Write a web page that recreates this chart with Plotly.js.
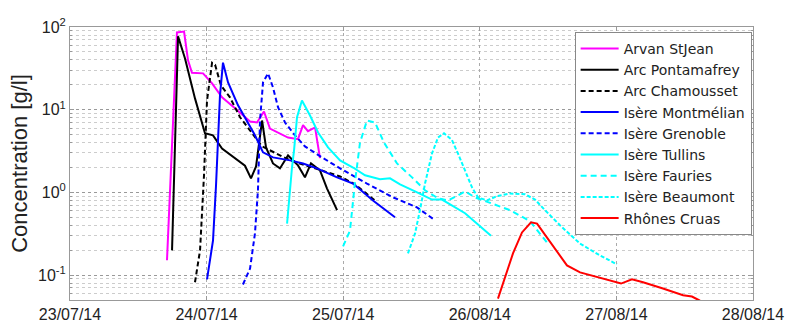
<!DOCTYPE html>
<html>
<head>
<meta charset="utf-8">
<script src="https://cdn.plot.ly/plotly-3.0.1.min.js"></script>
<style>html,body{margin:0;padding:0;background:#fff;}#chart{width:788px;height:322px;}</style>
</head>
<body>
<div id="chart"></div>
<script>
// x values are days since 23/07/14 00:00
const xTickVals = [0, 1, 2, 3, 4, 5];
const xTickText = ['23/07/14', '24/07/14', '25/07/14', '26/08/14', '27/08/14', '28/08/14'];
const yTickVals = [0.1, 1, 10, 100];
const yTickText = ['10<sup>-1</sup>', '10<sup>0</sup>', '10<sup>1</sup>', '10<sup>2</sup>'];

const arvanX = [0.710, 0.783, 0.835, 0.864, 0.893, 0.974, 1.040, 1.113, 1.208, 1.318, 1.369, 1.420, 1.464, 1.596, 1.669, 1.706, 1.742, 1.794, 1.830];
const arvanY = [0.151, 86, 88, 39.5, 28, 27.5, 20.8, 14.1, 10.4, 7.2, 7.0, 9.5, 5.9, 4.6, 4.4, 6.5, 5.5, 6.1, 2.6];

const pontX = [0.747, 0.791, 0.842, 0.915, 0.988, 1.047, 1.113, 1.208, 1.281, 1.325, 1.362, 1.406, 1.435, 1.486, 1.537, 1.596, 1.669, 1.720, 1.764, 1.830, 1.881, 1.955];
const pontY = [0.199, 77, 41.7, 13.7, 5.2, 4.9, 3.4, 2.6, 2.1, 1.48, 2.06, 7.4, 3.5, 2.24, 1.95, 2.8, 2.12, 1.52, 2.24, 1.85, 1.12, 0.61];

const chamX = [0.915, 0.952, 0.981, 1.003, 1.040, 1.062, 1.105, 1.171, 1.245, 1.318, 1.406, 1.611, 1.830, 1.977, 2.086, 2.240];
const chamY = [0.082, 0.199, 1.61, 12.9, 37, 35, 19.7, 14.1, 8.1, 5.6, 3.6, 2.44, 1.85, 1.56, 1.25, 0.78];

const montX = [1.003, 1.047, 1.069, 1.083, 1.098, 1.120, 1.157, 1.230, 1.303, 1.354, 1.413, 1.486, 1.611, 1.706, 1.808, 1.955, 2.072, 2.218, 2.379];
const montY = [0.0887, 0.263, 1.22, 3.4, 14.9, 37, 21.4, 11.3, 7.0, 4.9, 3.05, 2.65, 2.44, 2.24, 1.95, 1.52, 1.28, 0.80, 0.50];

const grenX = [1.266, 1.318, 1.354, 1.376, 1.391, 1.413, 1.450, 1.486, 1.523, 1.574, 1.647, 1.720, 1.845, 1.977, 2.174, 2.365, 2.540, 2.672];
const grenY = [0.077, 0.120, 0.319, 1.06, 7.4, 21.4, 27.5, 18.6, 10.7, 7.0, 4.9, 3.6, 2.65, 1.95, 1.28, 0.87, 0.66, 0.46];

const tullX = [1.589, 1.603, 1.625, 1.640, 1.662, 1.698, 1.757, 1.816, 1.889, 1.977, 2.072, 2.160, 2.269, 2.343, 2.416, 2.526, 2.650, 2.723, 2.892, 3.082];
const tullY = [0.42, 0.80, 2.0, 3.2, 8.1, 12.9, 8.5, 5.3, 3.5, 2.44, 2.0, 1.61, 1.44, 1.48, 1.25, 1.03, 0.82, 0.82, 0.56, 0.30];

const fauX = [1.999, 2.050, 2.086, 2.123, 2.174, 2.233, 2.299, 2.394, 2.504, 2.599, 2.694, 2.767, 2.840, 2.892, 2.965, 3.075, 3.221, 3.367, 3.499];
const fauY = [0.222, 0.347, 1.32, 4.0, 7.4, 7.0, 4.0, 2.24, 1.52, 1.06, 0.85, 0.80, 0.92, 1.03, 0.87, 0.74, 0.61, 0.45, 0.24];

const beauX = [2.474, 2.526, 2.562, 2.599, 2.650, 2.694, 2.738, 2.796, 2.840, 2.892, 2.943, 2.987, 3.053, 3.126, 3.221, 3.331, 3.404, 3.477, 3.587, 3.734, 3.880, 4.004];
const beauY = [0.183, 0.319, 0.61, 1.28, 2.96, 4.6, 5.2, 4.3, 2.96, 1.85, 1.15, 0.87, 0.80, 0.90, 0.97, 0.95, 0.82, 0.61, 0.40, 0.24, 0.173, 0.135];

const cruasX = [3.133, 3.184, 3.243, 3.309, 3.375, 3.419, 3.492, 3.565, 3.638, 3.734, 3.843, 3.953, 4.034, 4.114, 4.195, 4.341, 4.488, 4.553, 4.612];
const cruasY = [0.052, 0.091, 0.183, 0.328, 0.434, 0.42, 0.286, 0.188, 0.131, 0.108, 0.096, 0.086, 0.079, 0.089, 0.082, 0.069, 0.057, 0.055, 0.049];

const seriesNames = ['Arvan StJean', 'Arc Pontamafrey', 'Arc Chamousset', 'Isère Montmélian', 'Isère Grenoble', 'Isère Tullins', 'Isère Fauries', 'Isère Beaumont', 'Rhônes Cruas'];

function tr(name, x, y, color, dash) {
  return {type: 'scatter', mode: 'lines', name: name, x: x, y: y,
          line: {color: color, width: 2, dash: dash}};
}

const traces = [
  tr(seriesNames[0], arvanX, arvanY, '#ff00ff', 'solid'),
  tr(seriesNames[1], pontX, pontY, '#000000', 'solid'),
  tr(seriesNames[2], chamX, chamY, '#000000', '5px,3px'),
  tr(seriesNames[3], montX, montY, '#0000ff', 'solid'),
  tr(seriesNames[4], grenX, grenY, '#0000ff', '5px,3px'),
  tr(seriesNames[5], tullX, tullY, '#00ffff', 'solid'),
  tr(seriesNames[6], fauX, fauY, '#00ffff', '6px,4px'),
  tr(seriesNames[7], beauX, beauY, '#00ffff', '4px,2px'),
  tr(seriesNames[8], cruasX, cruasY, '#ff0000', 'solid')
];

const layout = {
  width: 788, height: 322,
  margin: {l: 70, r: 35, t: 27, b: 22},
  paper_bgcolor: '#ffffff', plot_bgcolor: '#ffffff',
  font: {family: '"Liberation Sans", Arial, sans-serif', size: 15, color: '#222'},
  showlegend: true,
  legend: {x: 0.998, y: 0.982, xanchor: 'right', yanchor: 'top',
           bgcolor: '#ffffff', bordercolor: '#888', borderwidth: 1,
           itemwidth: 38,
           font: {family: '"DejaVu Sans", sans-serif', size: 14, color: '#222'}},
  xaxis: {range: [0, 5], tickmode: 'array', tickvals: xTickVals, ticktext: xTickText,
          showgrid: true, gridcolor: '#aaa', griddash: 'dot', gridwidth: 1,
          zeroline: false, showline: true, linecolor: '#999', mirror: 'ticks',
          ticks: 'inside', ticklen: 4, tickcolor: '#999',
          tickfont: {size: 16, color: '#222'}},
  yaxis: {type: 'log', range: [Math.log10(0.05), 2], tickmode: 'array',
          tickvals: yTickVals, ticktext: yTickText,
          showgrid: true, gridcolor: '#999', griddash: 'dot', gridwidth: 1,
          minor: {dtick: 'D1', showgrid: true, gridcolor: '#ccc', griddash: 'dot', ticks: 'inside', ticklen: 2, tickcolor: '#999'},
          zeroline: false, showline: true, linecolor: '#999', mirror: 'ticks',
          ticks: 'inside', ticklen: 4, tickcolor: '#999',
          tickfont: {size: 16, color: '#222'},
          title: {text: 'Concentration [g/l]', font: {size: 22, color: '#222'}, standoff: 4}}
};

Plotly.newPlot('chart', traces, layout, {staticPlot: true, displayModeBar: false});
</script>
</body>
</html>
